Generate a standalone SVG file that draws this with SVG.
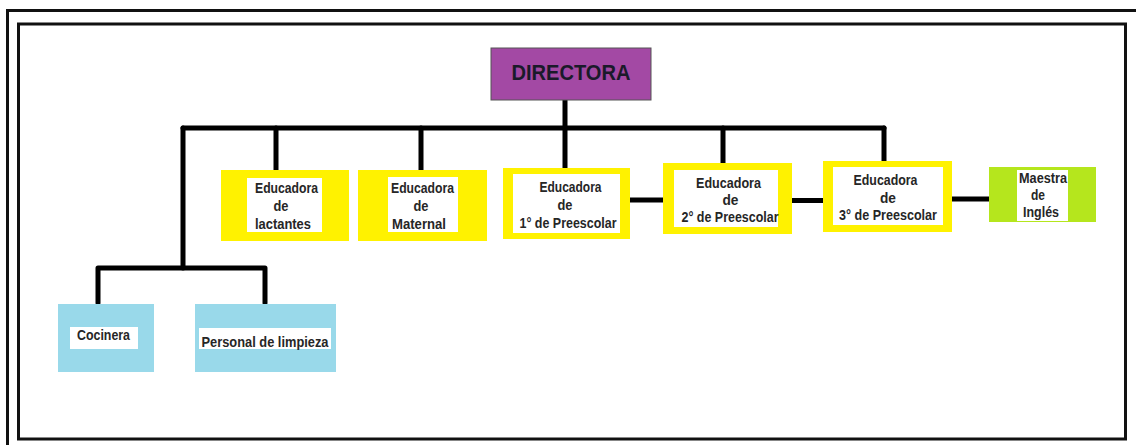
<svg xmlns="http://www.w3.org/2000/svg" width="1136" height="445" viewBox="0 0 1136 445">
<style>
.frame{fill:none;stroke:#111;stroke-width:3}
.conn{fill:none;stroke:#000;stroke-width:5;stroke-linecap:round;stroke-linejoin:round}
.yel{fill:#FFF200}
.lbl{fill:#fff}
.t{font-family:"Liberation Sans",Arial,sans-serif;font-weight:bold;font-size:15px;fill:#262626;text-anchor:middle}
.s{font-size:14px}
</style>
<rect x="0" y="0" width="1136" height="445" fill="#fff"/>
<g id="frame">
<path class="frame" d="M7.5,448 V10.5 H1140"/>
<rect class="frame" x="18.5" y="24" width="1107" height="415"/>
</g>
<g id="connectors">
<path class="conn" d="M565,100 V168"/>
<path class="conn" d="M183,128 H884"/>
<path class="conn" d="M183,128 V268"/>
<path class="conn" d="M98,303 V268 H265 V303"/>
<path class="conn" d="M276,128 V170"/>
<path class="conn" d="M421,128 V170"/>
<path class="conn" d="M723,128 V163"/>
<path class="conn" d="M884,128 V161"/>
<path class="conn" d="M630,200 H663"/>
<path class="conn" d="M792,200.5 H824"/>
<path class="conn" d="M952,199 H989"/>
</g>
<g id="directora">
<rect x="491" y="48" width="160" height="52" fill="#A349A4" stroke="#555" stroke-width="1"/>
<text class="t" x="571" y="80" style="font-size:22px;fill:#1a1a2a" textLength="119" lengthAdjust="spacingAndGlyphs">DIRECTORA</text>
</g>
<g id="lactantes">
<rect class="yel" x="221" y="170" width="128" height="71"/>
<rect class="lbl" x="247" y="178" width="75" height="54"/>
<text class="t" x="286.5" y="193" textLength="63" lengthAdjust="spacingAndGlyphs">Educadora</text>
<text class="t" x="281" y="211" textLength="15" lengthAdjust="spacingAndGlyphs">de</text>
<text class="t" x="283" y="229" textLength="56" lengthAdjust="spacingAndGlyphs">lactantes</text>
</g>
<g id="maternal">
<rect class="yel" x="358" y="170" width="129" height="71"/>
<rect class="lbl" x="388" y="177" width="70" height="55"/>
<text class="t" x="422.5" y="193" textLength="63" lengthAdjust="spacingAndGlyphs">Educadora</text>
<text class="t" x="421" y="211" textLength="15" lengthAdjust="spacingAndGlyphs">de</text>
<text class="t" x="419" y="229" textLength="54" lengthAdjust="spacingAndGlyphs">Maternal</text>
</g>
<g id="preescolar1">
<rect class="yel" x="503" y="168" width="127" height="71"/>
<rect class="lbl" x="513" y="174" width="107" height="59"/>
<text class="t" x="570.5" y="192" textLength="62" lengthAdjust="spacingAndGlyphs">Educadora</text>
<text class="t" x="565" y="210" textLength="15" lengthAdjust="spacingAndGlyphs">de</text>
<text class="t" x="568" y="228" textLength="97" lengthAdjust="spacingAndGlyphs">1° de Preescolar</text>
</g>
<g id="preescolar2">
<rect class="yel" x="663" y="163" width="129" height="71"/>
<rect class="lbl" x="674" y="170" width="104" height="57"/>
<text class="t" x="728.5" y="188" textLength="65" lengthAdjust="spacingAndGlyphs">Educadora</text>
<text class="t" x="730.5" y="205" textLength="16" lengthAdjust="spacingAndGlyphs">de</text>
<text class="t" x="730" y="222" textLength="97" lengthAdjust="spacingAndGlyphs">2° de Preescolar</text>
</g>
<g id="preescolar3">
<rect class="yel" x="823" y="161" width="129" height="71"/>
<rect class="lbl" x="833" y="167" width="110" height="58"/>
<text class="t" x="885.5" y="185" textLength="64" lengthAdjust="spacingAndGlyphs">Educadora</text>
<text class="t" x="888" y="203" textLength="16" lengthAdjust="spacingAndGlyphs">de</text>
<text class="t" x="888" y="220" textLength="98" lengthAdjust="spacingAndGlyphs">3° de Preescolar</text>
</g>
<g id="ingles">
<rect x="989" y="167" width="107" height="55" fill="#B5E61D"/>
<rect class="lbl" x="1017" y="170" width="51" height="51"/>
<text class="t s" x="1043" y="183" textLength="48" lengthAdjust="spacingAndGlyphs">Maestra</text>
<text class="t s" x="1038" y="200" textLength="14" lengthAdjust="spacingAndGlyphs">de</text>
<text class="t s" x="1041" y="217" textLength="36" lengthAdjust="spacingAndGlyphs">Inglés</text>
</g>
<g id="cocinera">
<rect x="58" y="304" width="96" height="68" fill="#99D9EA"/>
<rect class="lbl" x="70" y="327" width="68" height="22"/>
<text class="t" x="103.5" y="340" textLength="53" lengthAdjust="spacingAndGlyphs">Cocinera</text>
</g>
<g id="limpieza">
<rect x="195" y="304" width="141" height="68" fill="#99D9EA"/>
<rect class="lbl" x="199" y="328" width="132" height="21"/>
<text class="t" x="265" y="346.5" textLength="127" lengthAdjust="spacingAndGlyphs">Personal de limpieza</text>
</g>
</svg>
